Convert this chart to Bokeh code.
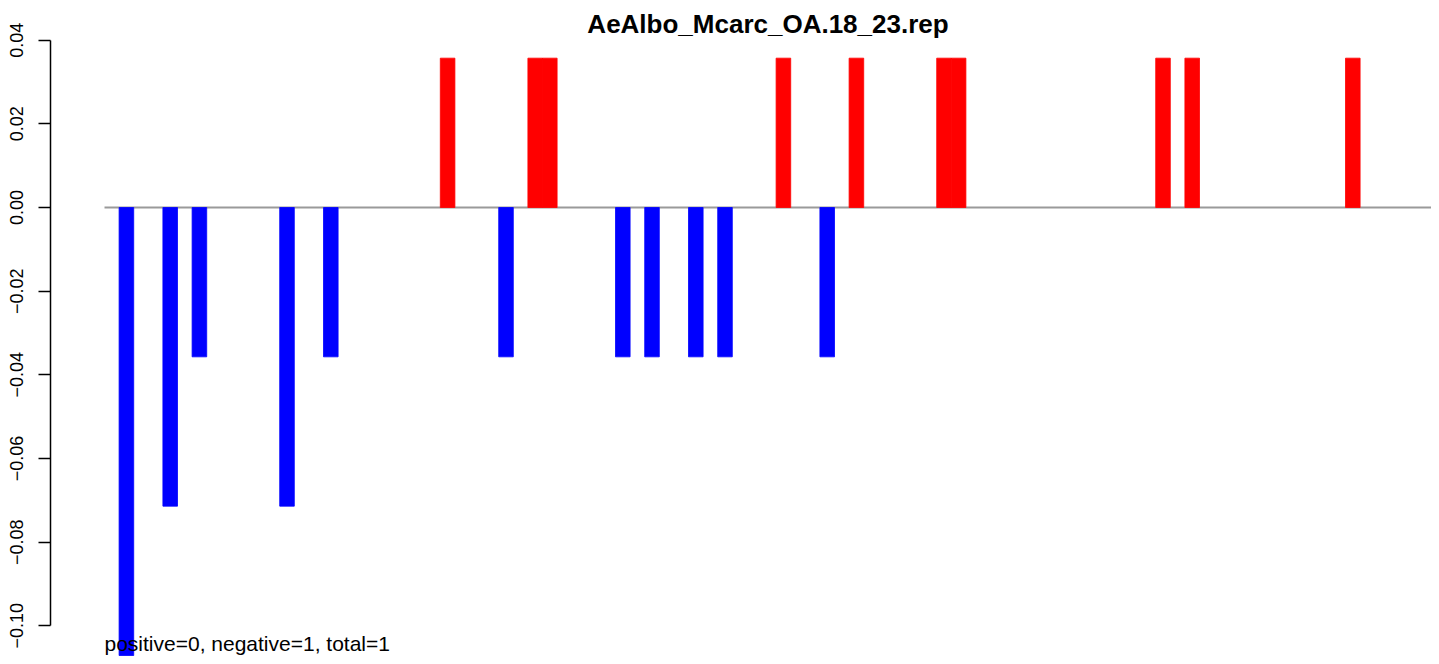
from bokeh.plotting import figure
from bokeh.models import Range1d, FixedTicker, CustomJSTickFormatter, Label
from bokeh.embed import file_html
from bokeh.resources import INLINE

# ---- data ----
title_text = "AeAlbo_Mcarc_OA.18_23.rep"
footer_text = "positive=0, negative=1, total=1"
n_bins = 91
bin_index = [1, 4, 6, 12, 15, 23, 27, 29, 30, 35, 37, 40, 42, 46, 49, 51, 57, 58, 72, 74, 85]
bin_value = [-0.1071, -0.0714, -0.0357, -0.0714, -0.0357, 0.0357, -0.0357, 0.0357, 0.0357,
             -0.0357, -0.0357, -0.0357, -0.0357, 0.0357, -0.0357, 0.0357, 0.0357, 0.0357,
             0.0357, 0.0357, 0.0357]
y_ticks = [-0.10, -0.08, -0.06, -0.04, -0.02, 0.00, 0.02, 0.04]

FONT = "Liberation Sans"

p = figure(width=1431, height=656, output_backend="svg", toolbar_location=None,
           x_range=Range1d(-3.699, 90.89), y_range=Range1d(-0.107339, 0.049486),
           x_axis_location=None, min_border_left=50, min_border_right=0,
           min_border_top=0, min_border_bottom=0)
p.grid.visible = False
p.outline_line_color = None
p.background_fill_color = "white"
p.border_fill_color = "white"

# baseline
p.line(x=[0, n_bins], y=[0, 0], line_color="#9a9a9a", line_width=2)

centers = [i + 0.5 for i in bin_index]
colors = ["#ff0000" if v > 0 else "#0000ff" for v in bin_value]
p.vbar(x=centers, top=bin_value, bottom=0, width=1.0, fill_color=colors,
       line_color=colors, line_width=0.8)

ax = p.yaxis[0]
ax.ticker = FixedTicker(ticks=y_ticks)
ax.bounds = (min(y_ticks), max(y_ticks))
ax.formatter = CustomJSTickFormatter(code="return tick.toFixed(2).replace('-', '\u2212');")
ax.major_label_orientation = "vertical"
ax.major_label_text_font = FONT
ax.major_label_text_font_size = "18px"
ax.major_label_text_color = "black"
ax.major_label_standoff = 15
ax.major_tick_out = 12
ax.major_tick_in = 0
ax.minor_tick_out = 0
ax.minor_tick_in = 0
ax.axis_line_width = 1.5
ax.major_tick_line_width = 1.5
ax.axis_line_color = "black"
ax.major_tick_line_color = "black"

# screen x of labels is measured from the frame's left edge (50px in)
p.add_layout(Label(x=717.5, y=633, x_units="screen", y_units="screen", text=title_text,
                   text_align="center", text_baseline="middle", text_font=FONT,
                   text_font_size="26px", text_font_style="bold", text_color="black"))
p.add_layout(Label(x=0, y=13, x_units="data", y_units="screen", text=footer_text,
                   text_align="left", text_baseline="middle", text_font=FONT,
                   text_font_size="21px", text_color="black"))

open("out.html", "w").write(file_html(p, INLINE))
